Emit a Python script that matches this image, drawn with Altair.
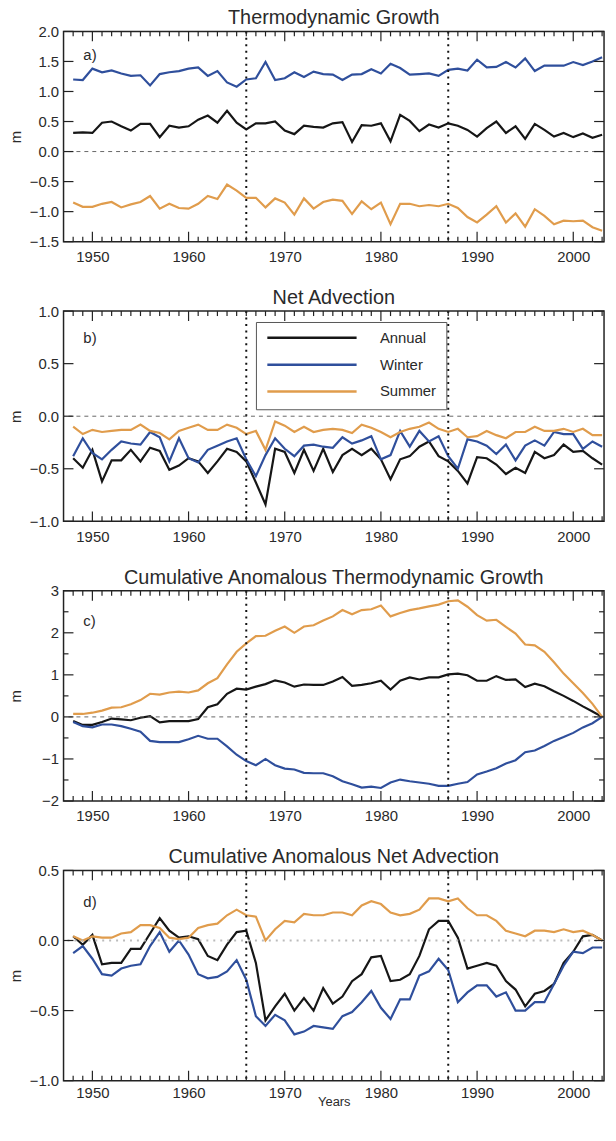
import altair as alt
import pandas as pd

YEARS = list(range(1948, 2004))
SERIES = ["Annual", "Winter", "Summer"]
COLORS = ["#161616", "#2f4f9c", "#e09c4c"]

# a) Thermodynamic Growth
a_annual = [0.31, 0.32, 0.31, 0.48, 0.50, 0.42, 0.35, 0.46, 0.46, 0.24, 0.43, 0.40, 0.42, 0.53, 0.60, 0.48, 0.68, 0.48, 0.37, 0.47, 0.47, 0.50, 0.35, 0.29, 0.43,
            0.41, 0.40, 0.47, 0.49, 0.16, 0.44, 0.43, 0.47, 0.17, 0.61, 0.51, 0.34, 0.45, 0.40, 0.47, 0.43, 0.36, 0.25, 0.39, 0.50, 0.31, 0.42, 0.21, 0.46, 0.36, 0.25, 0.31, 0.24, 0.30, 0.23, 0.28]
a_winter = [1.20, 1.19, 1.38, 1.32, 1.35, 1.30, 1.26, 1.27, 1.10, 1.29, 1.32, 1.34, 1.38, 1.40, 1.26, 1.34, 1.15, 1.08, 1.20, 1.22, 1.49, 1.19, 1.22, 1.32, 1.24,
            1.33, 1.29, 1.28, 1.19, 1.28, 1.29, 1.37, 1.30, 1.46, 1.39, 1.28, 1.29, 1.30, 1.26, 1.36, 1.38, 1.35, 1.53, 1.40, 1.41, 1.49, 1.40, 1.55, 1.34, 1.43, 1.43, 1.43, 1.49, 1.44, 1.50, 1.57]
a_summer = [-0.85, -0.92, -0.92, -0.87, -0.84, -0.93, -0.88, -0.84, -0.74, -0.95, -0.87, -0.94, -0.95, -0.87, -0.74, -0.79, -0.55, -0.65, -0.77, -0.77, -0.93, -0.78, -0.85, -1.05, -0.78,
            -0.95, -0.84, -0.80, -0.82, -1.04, -0.83, -0.96, -0.85, -1.21, -0.87, -0.87, -0.91, -0.89, -0.91, -0.87, -0.94, -1.09, -1.18, -1.05, -0.91, -1.18, -1.03, -1.25, -0.96, -1.07, -1.21, -1.15, -1.16, -1.15, -1.26, -1.32]

# b) Net Advection
b_annual = [-0.40, -0.49, -0.32, -0.62, -0.42, -0.42, -0.32, -0.43, -0.30, -0.33, -0.51, -0.47, -0.40, -0.43, -0.54, -0.43, -0.31, -0.34, -0.43, -0.63, -0.84, -0.31, -0.34, -0.54, -0.32,
            -0.52, -0.31, -0.53, -0.37, -0.31, -0.37, -0.31, -0.41, -0.60, -0.41, -0.38, -0.29, -0.24, -0.38, -0.43, -0.52, -0.64, -0.39, -0.40, -0.46, -0.55, -0.49, -0.54, -0.34, -0.40, -0.37, -0.27, -0.34, -0.33, -0.40, -0.46]
b_winter = [-0.38, -0.21, -0.35, -0.41, -0.32, -0.24, -0.26, -0.27, -0.15, -0.20, -0.43, -0.21, -0.40, -0.44, -0.32, -0.28, -0.24, -0.21, -0.41, -0.57, -0.37, -0.21, -0.31, -0.38, -0.28,
            -0.27, -0.29, -0.30, -0.20, -0.26, -0.23, -0.19, -0.41, -0.37, -0.14, -0.29, -0.14, -0.24, -0.19, -0.38, -0.50, -0.22, -0.24, -0.28, -0.36, -0.27, -0.42, -0.28, -0.23, -0.28, -0.15, -0.17, -0.17, -0.31, -0.24, -0.29]
b_summer = [-0.10, -0.17, -0.13, -0.15, -0.14, -0.13, -0.13, -0.08, -0.14, -0.16, -0.22, -0.14, -0.11, -0.08, -0.13, -0.13, -0.08, -0.11, -0.17, -0.14, -0.32, -0.05, -0.09, -0.15, -0.10,
            -0.15, -0.13, -0.12, -0.13, -0.16, -0.08, -0.11, -0.15, -0.20, -0.15, -0.12, -0.10, -0.06, -0.12, -0.15, -0.12, -0.20, -0.19, -0.14, -0.18, -0.21, -0.15, -0.15, -0.10, -0.14, -0.14, -0.12, -0.15, -0.12, -0.18, -0.18]

# c) Cumulative Anomalous Thermodynamic Growth
c_annual = [-0.10, -0.19, -0.19, -0.12, -0.04, -0.06, -0.08, -0.02, 0.02, -0.13, -0.10, -0.10, -0.10, -0.05, 0.23, 0.30, 0.55, 0.67, 0.65, 0.72, 0.78, 0.87, 0.82, 0.72, 0.77,
            0.76, 0.76, 0.84, 0.95, 0.74, 0.76, 0.80, 0.86, 0.65, 0.86, 0.94, 0.89, 0.94, 0.94, 1.01, 1.03, 0.99, 0.86, 0.86, 0.97, 0.88, 0.89, 0.71, 0.79, 0.73, 0.61, 0.50, 0.38, 0.25, 0.13, 0.00]
c_winter = [-0.12, -0.22, -0.25, -0.18, -0.18, -0.22, -0.28, -0.35, -0.57, -0.60, -0.60, -0.60, -0.53, -0.45, -0.52, -0.52, -0.70, -0.90, -1.05, -1.15, -1.00, -1.15, -1.23, -1.25, -1.33,
            -1.34, -1.34, -1.41, -1.53, -1.60, -1.68, -1.66, -1.69, -1.56, -1.49, -1.53, -1.56, -1.59, -1.64, -1.64, -1.59, -1.55, -1.37, -1.30, -1.22, -1.11, -1.03, -0.84, -0.80, -0.69, -0.57, -0.48, -0.38, -0.25, -0.15, 0.00]
c_summer = [0.07, 0.07, 0.10, 0.15, 0.22, 0.23, 0.30, 0.40, 0.55, 0.53, 0.58, 0.60, 0.58, 0.63, 0.80, 0.92, 1.25, 1.55, 1.75, 1.92, 1.93, 2.05, 2.15, 2.00, 2.15,
            2.18, 2.29, 2.39, 2.54, 2.44, 2.54, 2.56, 2.65, 2.39, 2.47, 2.54, 2.58, 2.63, 2.67, 2.75, 2.77, 2.62, 2.42, 2.29, 2.31, 2.14, 1.98, 1.72, 1.70, 1.55, 1.30, 1.03, 0.80, 0.57, 0.31, 0.00]

# d) Cumulative Anomalous Net Advection
d_annual = [0.03, -0.03, 0.04, -0.17, -0.16, -0.16, -0.06, -0.06, 0.05, 0.16, 0.07, 0.02, 0.03, 0.01, -0.11, -0.14, -0.03, 0.06, 0.07, -0.16, -0.57, -0.47, -0.38, -0.50, -0.41,
            -0.50, -0.34, -0.45, -0.40, -0.29, -0.24, -0.12, -0.11, -0.29, -0.28, -0.24, -0.11, 0.08, 0.14, 0.14, 0.02, -0.20, -0.18, -0.16, -0.18, -0.29, -0.35, -0.47, -0.38, -0.36, -0.31, -0.16, -0.08, 0.03, 0.04, 0.00]
d_winter = [-0.09, -0.04, -0.13, -0.24, -0.25, -0.20, -0.18, -0.17, -0.04, 0.06, -0.08, 0.00, -0.10, -0.24, -0.27, -0.26, -0.22, -0.14, -0.28, -0.54, -0.61, -0.53, -0.57, -0.67, -0.65,
            -0.61, -0.62, -0.63, -0.54, -0.51, -0.44, -0.36, -0.48, -0.56, -0.42, -0.42, -0.25, -0.22, -0.13, -0.21, -0.44, -0.37, -0.32, -0.32, -0.40, -0.37, -0.50, -0.50, -0.44, -0.44, -0.31, -0.18, -0.08, -0.09, -0.05, -0.05]
d_summer = [0.03, 0.00, 0.03, 0.02, 0.02, 0.05, 0.06, 0.11, 0.11, 0.09, 0.02, 0.01, 0.02, 0.09, 0.11, 0.12, 0.18, 0.22, 0.18, 0.17, 0.00, 0.08, 0.14, 0.13, 0.19,
            0.18, 0.18, 0.20, 0.20, 0.18, 0.25, 0.28, 0.26, 0.20, 0.18, 0.19, 0.22, 0.30, 0.30, 0.28, 0.30, 0.23, 0.18, 0.18, 0.14, 0.07, 0.05, 0.03, 0.07, 0.07, 0.06, 0.08, 0.06, 0.07, 0.04, 0.00]

DECADES = [1950, 1960, 1970, 1980, 1990, 2000]
MINOR_YEARS = [y for y in range(1948, 2004) if y % 10 != 0]
EVENT_YEARS = [1966, 1987]

W, H = 545, 212
XDOM = [1947, 2003.2]
FONT = "Liberation Sans"
TXT = "#2a2a2a"
TICK = "#222222"
MAJ, MIN = 10, 5


def panel(title, tag, tag_y, annual, winter, summer, ydom, yticks, yminor, yfmt,
          zero_style, legend=False, xtitle=None):
    n = len(YEARS)
    df = pd.DataFrame({
        "year": YEARS * 3,
        "value": annual + winter + summer,
        "series": ["Annual"] * n + ["Winter"] * n + ["Summer"] * n,
    })
    xs = alt.Scale(domain=XDOM, nice=False, zero=False)
    ys = alt.Scale(domain=ydom, nice=False, zero=False)

    if legend:
        leg = alt.Legend(orient="none", legendX=194, legendY=11, title=None,
                         symbolType="stroke", symbolSize=8100, symbolStrokeWidth=2.5,
                         clipHeight=12, rowPadding=12, labelOffset=22,
                         labelFontSize=15, labelFont=FONT, labelColor=TXT,
                         strokeColor="#555555", fillColor="white", padding=10)
    else:
        leg = None

    if xtitle:
        x_axis = alt.Axis(orient="bottom", values=DECADES, format="d", ticks=False,
                          domain=False, grid=False, labelPadding=5, labelOverlap=False,
                          title=xtitle, titlePadding=-5, titleFontSize=13)
    else:
        x_axis = alt.Axis(orient="bottom", values=DECADES, format="d", ticks=False,
                          domain=False, grid=False, labelPadding=8, labelOverlap=False,
                          title=None)
    y_axis = alt.Axis(orient="left", values=yticks, format=yfmt, ticks=False,
                      domain=False, grid=False, labelPadding=5, labelOverlap=False,
                      title="m", titleX=-43, titleY=H / 2, titleAngle=270,
                      titleBaseline="alphabetic", titleAlign="center")

    def X(field="year"):
        return alt.X(field + ":Q", scale=xs, axis=x_axis)

    def Y(field="value"):
        return alt.Y(field + ":Q", scale=ys, axis=y_axis)

    lines = alt.Chart(df).mark_line(strokeWidth=2.2).encode(
        x=X(), y=Y(),
        color=alt.Color("series:N", scale=alt.Scale(domain=SERIES, range=COLORS), legend=leg),
        detail="series:N",
    )

    vlines = alt.Chart(pd.DataFrame({"year": EVENT_YEARS})).mark_rule(
        color="#111111", strokeWidth=2, strokeDash=[2, 4.5]
    ).encode(x=X())

    zero = alt.Chart(pd.DataFrame({"value": [0.0]})).mark_rule(**zero_style).encode(y=Y())

    layers = [lines, vlines, zero]

    # inward tick marks on all four frame edges
    for vals, size in [(DECADES, MAJ), (MINOR_YEARS, MIN)]:
        tdf = pd.DataFrame({"year": vals})
        layers.append(alt.Chart(tdf).mark_rule(color=TICK, strokeWidth=1.2).encode(
            x=X(), y=alt.value(0), y2=alt.value(size)))
        layers.append(alt.Chart(tdf).mark_rule(color=TICK, strokeWidth=1.2).encode(
            x=X(), y=alt.value(H), y2=alt.value(H - size)))
    y_specs = [(yticks, MAJ)]
    if yminor:
        y_specs.append((yminor, MIN))
    for vals, size in y_specs:
        tdf = pd.DataFrame({"value": vals})
        layers.append(alt.Chart(tdf).mark_rule(color=TICK, strokeWidth=1.2).encode(
            y=Y(), x=alt.value(0), x2=alt.value(size)))
        layers.append(alt.Chart(tdf).mark_rule(color=TICK, strokeWidth=1.2).encode(
            y=Y(), x=alt.value(W), x2=alt.value(W - size)))

    label = alt.Chart(pd.DataFrame({"t": [tag]})).mark_text(
        align="left", baseline="middle", fontSize=15, font=FONT, color=TXT
    ).encode(text="t:N", x=alt.value(20), y=alt.value(tag_y))
    layers.append(label)

    return alt.layer(*layers).properties(
        width=W, height=H,
        title=alt.TitleParams(title, fontSize=20, font=FONT, fontWeight="normal",
                              color=TXT, anchor="middle", offset=-4))


dash_zero = dict(color="#666666", strokeWidth=1, strokeDash=[4, 4])
dot_zero = dict(color="#bbbbbb", strokeWidth=2, strokeDash=[2, 5])

pa = panel("Thermodynamic Growth", "a)", 24, a_annual, a_winter, a_summer,
           [-1.5, 2.0], [-1.5, -1.0, -0.5, 0.0, 0.5, 1.0, 1.5, 2.0], None, ".1f", dash_zero)
pb = panel("Net Advection", "b)", 27, b_annual, b_winter, b_summer,
           [-1.0, 1.0], [-1.0, -0.5, 0.0, 0.5, 1.0], None, ".1f", dash_zero, legend=True)
pc = panel("Cumulative Anomalous Thermodynamic Growth", "c)", 31, c_annual, c_winter, c_summer,
           [-2, 3], [-2, -1, 0, 1, 2, 3], [-1.5, -0.5, 0.5, 1.5, 2.5], "d", dash_zero)
pd_ = panel("Cumulative Anomalous Net Advection", "d)", 32, d_annual, d_winter, d_summer,
            [-1.0, 0.5], [-1.0, -0.5, 0.0, 0.5], None, ".1f", dot_zero, xtitle="Years")

chart = alt.vconcat(pa, pb, pc, pd_, spacing=22).resolve_scale(
    color="independent").resolve_legend(color="independent").properties(
    padding={"left": 0, "top": -5, "right": 0, "bottom": 0}
).configure_view(stroke="#222222", strokeWidth=1.5).configure_axis(
    labelFont=FONT, labelFontSize=15, labelColor=TXT, labelOverlap=False,
    titleFont=FONT, titleFontSize=15, titleFontWeight="normal", titleColor=TXT
).configure_legend(labelFont=FONT)

chart.save("out.html", embed_options={"renderer": "svg", "actions": False})
